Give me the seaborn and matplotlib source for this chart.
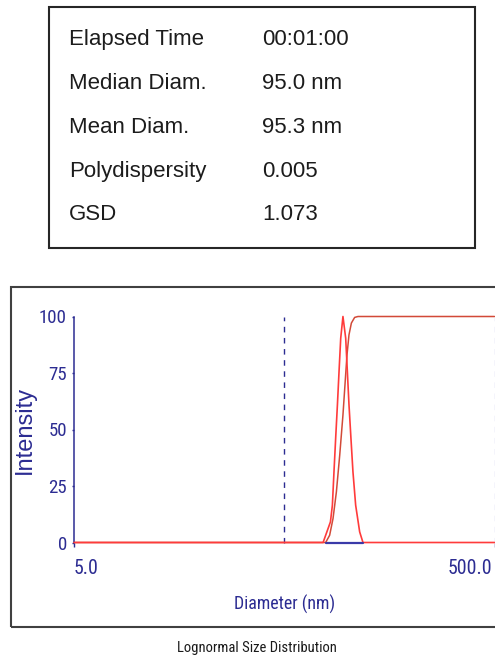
import matplotlib
matplotlib.use("Agg")
import matplotlib.pyplot as plt
import matplotlib.transforms as mtransforms
from matplotlib.patches import Rectangle
from matplotlib import font_manager
import seaborn as sns
import pandas as pd

# ---------------- data ----------------
stat_labels = ["Elapsed Time", "Median Diam.", "Mean Diam.", "Polydispersity", "GSD"]
stat_values = ["00:01:00", "95.0 nm", "95.3 nm", "0.005", "1.073"]

# lognormal intensity distribution (diameter nm, intensity)
dist_diam = [5.0, 76.5, 82.9, 84.7, 86.2, 87.8, 89.5, 91.1, 92.8, 95.1,
             98.0, 99.8, 101.6, 103.8, 106.1, 109.3, 114.2, 118.4, 500.0]
dist_int = [0, 0, 9.1, 16.5, 31.3, 46.1, 60.9, 75.6, 90.4, 100,
            90.4, 75.6, 60.9, 46.1, 31.3, 16.5, 4.7, 0, 0]

# cumulative distribution
cum_diam = [5.0, 78.7, 82.2, 85.3, 88.5, 91.8, 95.1, 97.7, 99.4, 101.6,
            104.3, 108.1, 112.1, 500.0]
cum_int = [0, 0, 3.2, 10.6, 22.4, 38.7, 56.4, 72.7, 83.0, 91.9,
           97.1, 99.6, 100, 100]

# measured range on the baseline
range_diam = [78.7, 118.4]
range_int = [0, 0]

# dashed reference diameters
ref_diam = [50.0, 500.0]

x_ticks = [5.0, 500.0]
x_tick_labels = ["5.0", "500.0"]
y_ticks = [0, 25, 50, 75, 100]
y_tick_labels = ["0", "25", "50", "75", "100"]

# ---------------- style ----------------
sns.set_style("white")


def have(fam):
    try:
        font_manager.findfont(font_manager.FontProperties(family=fam),
                              fallback_to_default=False)
        return True
    except Exception:
        return False


def narrow_props():
    for fam in ["Liberation Sans Narrow", "DejaVu Sans Condensed", "Roboto Condensed",
                "Open Sans Condensed", "Noto Sans Condensed"]:
        if have(fam):
            return {"family": [fam, "DejaVu Sans"]}
    for fam in ["Liberation Sans", "DejaVu Sans", "Noto Sans", "Open Sans", "Roboto"]:
        try:
            p = font_manager.findfont(font_manager.FontProperties(family=fam, stretch="condensed"),
                                      fallback_to_default=False)
            if "ondensed" in p or "arrow" in p:
                return {"family": [fam], "fontstretch": "condensed"}
        except Exception:
            pass
    return {"family": ["Liberation Sans", "DejaVu Sans"]}


NARROW = narrow_props()
REG = ["Liberation Sans", "DejaVu Sans"]
plt.rcParams["font.family"] = REG

NAVY = "#2c2c92"
RED = "#ff3b3b"
CUM = "#d24a38"
BLUE = "#3a3aa8"

W, H = 495, 659
fig = plt.figure(figsize=(W / 100, H / 100), dpi=100)
fig.patch.set_facecolor("white")


def fx(px):
    return px / W


def fy(py):
    return 1 - py / H


# ---- top statistics box ----
fig.patches.append(Rectangle((fx(49), fy(248)), fx(475) - fx(49), fy(7) - fy(248),
                             transform=fig.transFigure, fill=False,
                             edgecolor="#262626", linewidth=1.5))
baselines = [45, 89.3, 133.3, 176.7, 220]
for lab, val, b in zip(stat_labels, stat_values, baselines):
    fig.text(fx(69), fy(b), lab, family=REG, fontsize=16,
             color="#1c1c1c", va="baseline", ha="left")
    fig.text(fx(262), fy(b), val, family=REG, fontsize=16,
             color="#1c1c1c", va="baseline", ha="left")

# ---- bottom panel frame ----
fig.patches.append(Rectangle((fx(11), fy(626.7)), fx(510) - fx(11), fy(287.3) - fy(626.7),
                             transform=fig.transFigure, fill=False,
                             edgecolor="#404040", linewidth=1.5))

# ---- chart axes ----
ax_l, ax_r, ax_t, ax_b = 74, 494.5, 316.5, 542.5
ax = fig.add_axes([fx(ax_l), fy(ax_b), fx(ax_r) - fx(ax_l), fy(ax_t) - fy(ax_b)])
ax.set_facecolor("none")

df_dist = pd.DataFrame({"Diameter": dist_diam, "Intensity": dist_int})
df_cum = pd.DataFrame({"Diameter": cum_diam, "Intensity": cum_int})
df_rng = pd.DataFrame({"Diameter": range_diam, "Intensity": range_int})

for d, c in zip(ref_diam, [NAVY, "#c9c9ec"]):
    ax.axvline(d, ymin=0, ymax=1, color=c, linestyle=(0, (4, 4)), linewidth=1.0,
               clip_on=False, zorder=1)

sns.lineplot(data=df_cum, x="Diameter", y="Intensity", ax=ax, color=CUM,
             linewidth=1.1, estimator=None, sort=False, clip_on=False, zorder=2)
sns.lineplot(data=df_dist, x="Diameter", y="Intensity", ax=ax, color=RED,
             linewidth=1.2, estimator=None, sort=False, clip_on=False, zorder=3)
sns.lineplot(data=df_rng, x="Diameter", y="Intensity", ax=ax, color=BLUE,
             linewidth=1.6, estimator=None, sort=False, clip_on=False, zorder=4)

ax.set_xscale("log")
ax.set_xlim(5, 500)
ax.set_ylim(0, 100)

for s in ["top", "right", "bottom"]:
    ax.spines[s].set_visible(False)
ax.spines["left"].set_color(NAVY)
ax.spines["left"].set_linewidth(1.1)

ax.xaxis.set_minor_locator(matplotlib.ticker.NullLocator())
ax.set_xticks(x_ticks)
ax.set_xticklabels(x_tick_labels, fontsize=14, color=NAVY, **NARROW)
ax.set_yticks(y_ticks)
ax.set_yticklabels(y_tick_labels, fontsize=14, color=NAVY, **NARROW)
ax.tick_params(axis="x", direction="out", length=3, width=1.0, color=NAVY, pad=9, bottom=True)
ax.tick_params(axis="y", direction="out", length=1.5, width=1.0, color=NAVY, pad=3.5, left=True)

ax.set_xlabel("Diameter (nm)", fontsize=14, color=NAVY, **NARROW)
ax.xaxis.set_label_coords(0.5, -(594.5 - ax_b) / (ax_b - ax_t))
ax.set_ylabel("Intensity", family=REG, fontsize=17, color=NAVY)
ax.yaxis.set_label_coords(-(ax_l - 35.5) / (ax_r - ax_l), 0.5)

caption = fig.text(fx(257), fy(648), "Lognormal Size Distribution",
                   fontsize=11.5, color="#1a1a1a", ha="center", va="center", **NARROW)

# ---- fit text widths to the reference ----
fig.canvas.draw()
r = fig.canvas.get_renderer()


def width(t):
    return t.get_window_extent(renderer=r).width


yl = ax.get_yticklabels()
ytick_fs = 14 * 28.0 / width(yl[-1])
ax.tick_params(axis="y", labelsize=ytick_fs)
xl = ax.get_xticklabels()
xtick_fs = 14 * 25.0 / width(xl[0])
ax.tick_params(axis="x", labelsize=xtick_fs)
xlab = ax.xaxis.label
xlab.set_fontsize(14 * 102.0 / width(xlab))
caption.set_fontsize(11.5 * 160.0 / width(caption))

fig.canvas.draw()
xl = ax.get_xticklabels()
xl[0].set_ha("left")
xl[1].set_ha("right")
xl[1].set_transform(xl[1].get_transform() +
                    mtransforms.ScaledTranslation(-2 / 100, 0, fig.dpi_scale_trans))
ax.xaxis.get_major_ticks()[1].tick1line.set_color("#c9c9ec")

fig.savefig("out.png", dpi=100, facecolor="white")
